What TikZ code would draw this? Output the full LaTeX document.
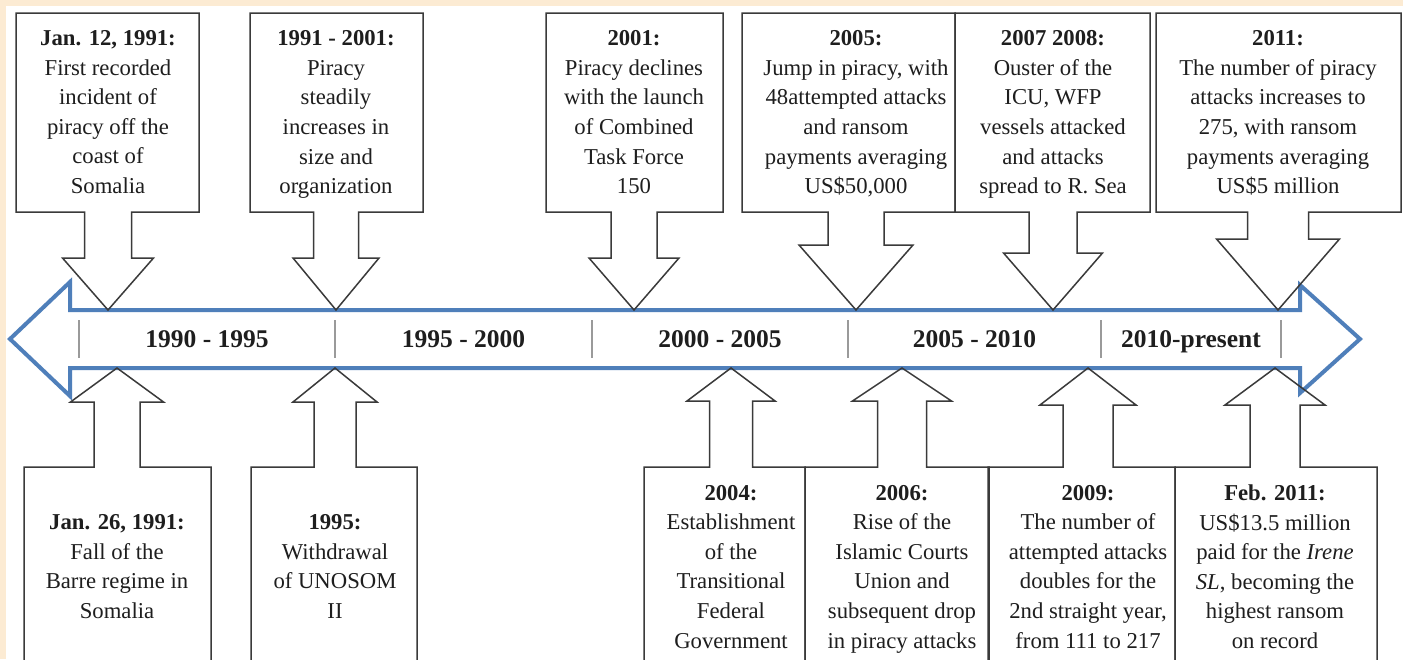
\documentclass[tikz,border=0pt]{standalone}
\usepackage{fontspec}
\setmainfont{Liberation Serif}
\usetikzlibrary{calc}

\definecolor{cream}{HTML}{FCEBD3}
\definecolor{lineblue}{HTML}{4F7FBA}
\definecolor{boxline}{HTML}{3A3A3A}
\definecolor{textgray}{HTML}{1E1E1E}
\definecolor{tickgray}{HTML}{9A9A9A}

% box above the timeline, arrow pointing down
% #1 name, #2 left, #3 right, #4 centre, #5 half shaft, #6 half head, #7 head top, #8 text
\newcommand{\downcall}[8]{%
    \draw[callout] (#2,13) -- (#3,13) -- (#3,212) -- ({#4+#5},212) -- ({#4+#5},#7)
        -- ({#4+#6},#7) -- (#4,310) -- ({#4-#6},#7) -- ({#4-#5},#7)
        -- ({#4-#5},212) -- (#2,212) -- cycle;
    \node[calltext] (#1) at (#4,116.5) {#8};
}
% box below the timeline, arrow pointing up
\newcommand{\upcall}[8]{%
    \draw[callout] (#2,665) -- (#2,467) -- ({#4-#5},467) -- ({#4-#5},#7)
        -- ({#4-#6},#7) -- (#4,368) -- ({#4+#6},#7) -- ({#4+#5},#7)
        -- ({#4+#5},467) -- (#3,467) -- (#3,665);
    \node[calltext] (#1) at (#4,571) {#8};
}

\begin{document}
\begin{tikzpicture}[x=1pt, y=-1pt,
        callout/.style = {draw=boxline, line width=1.5pt, line join=miter},
        calltext/.style = {align=center, inner sep=0pt, text=textgray,
            font=\fontsize{22.7}{29.6}\selectfont,
            execute at begin node=\strut, execute at end node=\strut},
        period/.style = {inner sep=0pt, text=textgray, anchor=base, yshift=-8.5pt,
            font=\fontsize{25.5}{30}\selectfont\bfseries},
        tickline/.style = {draw=tickgray, line width=2pt}
        ]
    \clip (0,0) rectangle (1403,659);
    \fill[cream] (0,0) rectangle (1403,659);
    \fill[white] (6,6) rectangle (1403,659);

    % timeline
    \draw[lineblue, fill=white, line width=4pt, line join=miter]
        (10,339) -- (70,282) -- (70,310) -- (1300,310) -- (1300,285)
        -- (1360,339) -- (1300,393) -- (1300,368) -- (70,368) -- (70,396) -- cycle;
    \foreach \x [count=\i] in {79,335,592,848,1101,1281} {
        \coordinate (t\i) at (\x,339);
        \draw[tickline] (\x,320) -- (\x,358);
    }
    \node[period] (p1) at ($(t1)!.5!(t2)$) {1990 - 1995};
    \node[period] (p2) at ($(t2)!.5!(t3)$) {1995 - 2000};
    \node[period] (p3) at ($(t3)!.5!(t4)$) {2000 - 2005};
    \node[period] (p4) at ($(t4)!.5!(t5)$) {2005 - 2010};
    \node[period] (p5) at ($(t5)!.5!(t6)$) {2010-present};

    % events above
    \downcall{jan91}{16}{199}{108}{23.5}{45.5}{258}{\textbf{Jan. 12, 1991:}\\First recorded\\incident of\\piracy off the\\coast of\\Somalia}
    \downcall{grow}{250}{423}{336}{22.5}{43}{258}{\textbf{1991 - 2001:}\\Piracy\\steadily\\increases in\\size and\\organization}
    \downcall{ctf}{546}{723}{634}{23}{45}{258}{\textbf{2001:}\\Piracy declines\\with the launch\\of Combined\\Task Force\\150}
    \downcall{jump}{742}{955}{856}{28}{57}{245}{\textbf{2005:}\\Jump in piracy, with\\48attempted attacks\\and ransom\\payments averaging\\US\$50,000}
    \downcall{icu}{955}{1150}{1053}{24}{49.5}{253}{\textbf{2007 2008:}\\Ouster of the\\ICU, WFP\\vessels attacked\\and attacks\\spread to R. Sea}
    \downcall{rise}{1156}{1401}{1278}{30.5}{61.5}{239}{\textbf{2011:}\\The number of piracy\\attacks increases to\\275, with ransom\\payments averaging\\US\$5 million}

    % events below
    \upcall{barre}{24}{211}{117}{23}{46.5}{402}{\textbf{Jan. 26, 1991:}\\Fall of the\\Barre regime in\\Somalia}
    \upcall{unosom}{251}{417}{335}{21}{42}{402}{\textbf{1995:}\\Withdrawal\\of UNOSOM\\II}
    \upcall{tfg}{644}{805}{731}{21.5}{44}{401}{\textbf{2004:}\\Establishment\\of the\\Transitional\\Federal\\Government}
    \upcall{courts}{805}{989}{902}{24.5}{49.5}{401}{\textbf{2006:}\\Rise of the\\Islamic Courts\\Union and\\subsequent drop\\in piracy attacks}
    \upcall{double}{988}{1175}{1088}{25}{48}{405}{\textbf{2009:}\\The number of\\attempted attacks\\doubles for the\\2nd straight year,\\from 111 to 217}
    \upcall{irene}{1175}{1377}{1275}{25}{50}{405}{\textbf{Feb. 2011:}\\US\$13.5 million\\paid for the \textit{Irene}\\\textit{SL}, becoming the\\highest ransom\\on record}
\end{tikzpicture}
\end{document}
